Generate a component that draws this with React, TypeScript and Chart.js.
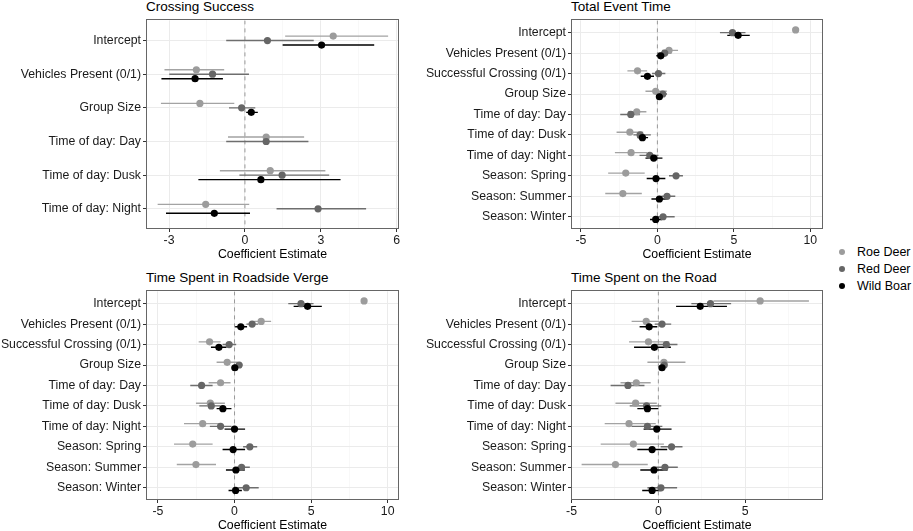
import React, { useEffect, useRef } from "react";
import { Chart, registerables } from "chart.js";

Chart.register(...registerables);

const FONT = '"Liberation Sans", Arial, sans-serif';

const crossingRows = [
  "Intercept",
  "Vehicles Present (0/1)",
  "Group Size",
  "Time of day: Day",
  "Time of day: Dusk",
  "Time of day: Night",
];

const timeRows = [
  "Intercept",
  "Vehicles Present (0/1)",
  "Successful Crossing (0/1)",
  "Group Size",
  "Time of day: Day",
  "Time of day: Dusk",
  "Time of day: Night",
  "Season: Spring",
  "Season: Summer",
  "Season: Winter",
];

const speciesNames = ["Roe Deer", "Red Deer", "Wild Boar"];
const speciesColors = ["#9c9c9c", "#666666", "#000000"];
const lineColors = ["#a3a3a3", "#6e6e6e", "#000000"];

// each row: [estimate, lower, upper], null where the term is missing
type Est = number[] | null;

const crossRoe: Est[] = [
  [3.49, 1.59, 5.66],
  [-1.92, -3.18, -0.82],
  [-1.78, -3.32, -0.42],
  [0.84, -0.67, 2.34],
  [1.0, -0.99, 3.18],
  [-1.55, -3.45, 0.17],
];
const crossRed: Est[] = [
  [0.89, -0.74, 2.72],
  [-1.28, -2.99, 0.16],
  [-0.13, -0.63, 0.41],
  [0.84, -0.74, 2.51],
  [1.47, -0.22, 3.33],
  [2.89, 1.25, 4.79],
];
const crossBoar: Est[] = [
  [3.03, 1.49, 5.11],
  [-1.97, -3.3, -0.87],
  [0.25, 0.05, 0.51],
  null,
  [0.63, -1.84, 3.78],
  [-1.21, -3.12, 0.2],
];

const totalRoe: Est[] = [
  [9.04, 8.96, 9.12],
  [0.76, 0.3, 1.35],
  [-1.3, -1.96, -0.67],
  [-0.11, -0.78, 0.61],
  [-1.35, -1.91, -0.72],
  [-1.8, -2.67, -0.93],
  [-1.72, -2.78, -0.67],
  [-2.07, -3.22, -0.83],
  [-2.26, -3.41, -1.02],
  null,
];
const totalRed: Est[] = [
  [4.91, 4.09, 5.76],
  [0.48, 0.0, 0.91],
  [0.07, -0.35, 0.52],
  [0.35, 0.04, 0.63],
  [-1.74, -2.43, -1.15],
  [-1.13, -1.57, -0.43],
  [-0.5, -1.17, 0.07],
  [1.22, 0.76, 1.67],
  [0.63, 0.26, 1.17],
  [0.37, -0.07, 1.13],
];
const totalBoar: Est[] = [
  [5.28, 4.57, 6.04],
  [0.22, -0.07, 0.52],
  [-0.65, -1.09, -0.22],
  [0.13, -0.07, 0.33],
  null,
  [-0.98, -1.3, -0.61],
  [-0.24, -0.78, 0.33],
  [-0.09, -0.7, 0.52],
  [0.13, -0.39, 0.61],
  [-0.11, -0.48, 0.3],
];

const vergeRoe: Est[] = [
  [8.46, 8.38, 8.54],
  [1.74, 1.28, 2.39],
  [-1.63, -2.34, -0.91],
  [-0.48, -1.17, 0.2],
  [-0.91, -1.69, -0.26],
  [-1.58, -2.52, -0.63],
  [-2.08, -3.3, -0.91],
  [-2.73, -3.95, -1.43],
  [-2.52, -3.77, -1.21],
  null,
];
const vergeRed: Est[] = [
  [4.34, 3.51, 5.16],
  [1.15, 0.78, 1.54],
  [-0.35, -0.78, 0.11],
  [0.3, 0.04, 0.52],
  [-2.15, -2.89, -1.43],
  [-1.52, -2.3, -0.91],
  [-0.91, -1.61, -0.2],
  [1.0, 0.56, 1.48],
  [0.46, 0.17, 1.0],
  [0.76, 0.24, 1.58],
];
const vergeBoar: Est[] = [
  [4.77, 3.86, 5.7],
  [0.41, 0.04, 0.82],
  [-1.02, -1.54, -0.52],
  [0.02, -0.17, 0.22],
  null,
  [-0.76, -1.17, -0.2],
  [0.0, -0.65, 0.69],
  [-0.09, -0.78, 0.69],
  [0.09, -0.56, 0.67],
  [0.07, -0.39, 0.48],
];

const roadRoe: Est[] = [
  [5.86, 3.17, 8.67],
  [-0.7, -1.54, 0.04],
  [-0.57, -1.69, 0.63],
  [0.32, -0.63, 1.56],
  [-1.27, -2.18, -0.44],
  [-1.31, -2.47, -0.09],
  [-1.69, -3.09, -0.15],
  [-1.44, -3.32, 0.32],
  [-2.47, -4.42, -0.61],
  null,
];
const roadRed: Est[] = [
  [3.0, 1.9, 4.19],
  [0.21, -0.21, 0.74],
  [0.46, -0.21, 1.1],
  [0.34, 0.15, 0.51],
  [-1.75, -2.75, -0.8],
  [-0.68, -1.65, 0.17],
  [-0.63, -1.54, 0.23],
  [0.76, 0.13, 1.39],
  [0.38, -0.32, 1.12],
  [0.15, -0.63, 1.08],
];
const roadBoar: Est[] = [
  [2.41, 1.02, 3.95],
  [-0.53, -1.08, -0.06],
  [-0.23, -1.4, 0.72],
  [0.21, 0.06, 0.36],
  null,
  [-0.63, -1.21, 0.0],
  [-0.09, -0.85, 0.76],
  [-0.36, -1.21, 0.51],
  [-0.25, -1.04, 0.53],
  [-0.36, -0.93, 0.19],
];

const crossTicks = [-3, 0, 3, 6];
const timeTicks = [-5, 0, 5, 10];
const roadTicks = [-5, 0, 5];

const dodge = [-0.133, 0, 0.133];
const AXIS_W = 146; // room for the row labels
const PAD_TOP = 8; // keeps chart.js from shifting the plot for label overhang
const PAD_RIGHT = 5;
const PAD_BOTTOM = 2;
const X_AXIS_H = 33;
const PLOT_H = 210;
const CANVAS_H = PAD_TOP + PLOT_H + X_AXIS_H + PAD_BOTTOM;

type PanelProps = {
  title: string;
  rows: string[];
  series: Est[][];
  xMin: number;
  xMax: number;
  majors: number[];
  left: number;
  plotTop: number;
  width: number;
};

const Panel = ({ title, rows, series, xMin, xMax, majors, left, plotTop, width }: PanelProps) => {
  const chartRef = useRef<HTMLCanvasElement | null>(null);

  useEffect(() => {
    if (!chartRef.current) return;
    const ctx = chartRef.current.getContext("2d");
    if (!ctx) return;

    const step = majors[1] - majors[0];
    const gridVals: number[] = [];
    for (let v = majors[0] - step / 2; v <= xMax; v += step / 2) {
      if (v > xMin) gridVals.push(Math.round(v * 100) / 100);
    }
    const isMajor = (v: number) => majors.includes(v);
    const yMax = rows.length + 0.6;

    const datasets: any[] = [
      {
        type: "line",
        data: [
          { x: 0, y: 0.4 },
          { x: 0, y: yMax },
        ],
        borderColor: "#9a9a9a",
        borderWidth: 1,
        borderDash: [4, 4],
        pointRadius: 0,
        order: 20,
      },
    ];

    series.forEach((s, k) => {
      const segs: any[] = [];
      const pts: any[] = [];
      s.forEach((r, i) => {
        if (!r) return;
        const y = i + 1 + dodge[k];
        segs.push({ x: r[1], y }, { x: r[2], y }, { x: r[0], y: null });
        pts.push({ x: r[0], y });
      });
      datasets.push({
        type: "line",
        label: speciesNames[k] + " CI",
        data: segs,
        borderColor: lineColors[k],
        borderWidth: 1.4,
        pointRadius: 0,
        spanGaps: false,
        order: 10 - k,
      });
      datasets.push({
        type: "scatter",
        label: speciesNames[k],
        data: pts,
        pointRadius: 3.6,
        backgroundColor: speciesColors[k],
        borderWidth: 0,
        order: 5 - k,
      });
    });

    const myChart = new Chart(ctx, {
      type: "scatter",
      data: { datasets },
      options: {
        responsive: false,
        animation: false,
        events: [],
        layout: {
          padding: { top: PAD_TOP, right: PAD_RIGHT, bottom: PAD_BOTTOM, left: 0 },
          autoPadding: false,
        },
        plugins: {
          legend: { display: false },
          tooltip: { enabled: false },
        },
        scales: {
          x: {
            type: "linear",
            min: xMin,
            max: xMax,
            afterBuildTicks: (sc: any) => {
              sc.ticks = gridVals.map((v) => ({ value: v }));
            },
            afterFit: (sc: any) => {
              sc.height = X_AXIS_H;
            },
            ticks: {
              autoSkip: false,
              maxRotation: 0,
              padding: 1,
              color: "#1a1a1a",
              font: { family: FONT, size: 12.3 },
              callback: (v: any) => (isMajor(v) ? String(v) : ""),
            },
            grid: {
              color: (c: any) => (isMajor(c.tick.value) ? "#ebebeb" : "#f3f3f3"),
              lineWidth: (c: any) => (isMajor(c.tick.value) ? 1 : 0.6),
              tickLength: 3,
              tickWidth: 1,
              tickColor: (c: any) => (isMajor(c.tick.value) ? "#333" : "rgba(0,0,0,0)"),
            },
            border: { display: false },
            title: {
              display: true,
              text: "Coefficient Estimate",
              color: "#000",
              font: { family: FONT, size: 12.3 },
              padding: { top: 0, bottom: 0 },
            },
          },
          y: {
            type: "linear",
            reverse: true,
            min: 0.4,
            max: yMax,
            afterBuildTicks: (sc: any) => {
              sc.ticks = rows.map((_, i) => ({ value: i + 1 }));
            },
            afterFit: (sc: any) => {
              sc.width = AXIS_W;
            },
            ticks: {
              autoSkip: false,
              padding: 2,
              color: "#1a1a1a",
              font: { family: FONT, size: 12.3 },
              callback: (v: any) => rows[v - 1] ?? "",
            },
            grid: {
              color: "#ebebeb",
              lineWidth: 1,
              tickLength: 3,
              tickWidth: 1,
              tickColor: "#333",
            },
            border: { display: false },
          },
        },
      },
    });

    return () => {
      myChart.destroy();
    };
  }, []);

  const canvasTop = plotTop - PAD_TOP;

  return (
    <>
      <div
        style={{
          position: "absolute",
          left: left + AXIS_W,
          top: plotTop - 19,
          font: `13.5px ${FONT}`,
          lineHeight: "13px",
          color: "#000",
          whiteSpace: "nowrap",
        }}
      >
        {title}
      </div>
      <canvas
        ref={chartRef}
        width={width}
        height={CANVAS_H}
        style={{ position: "absolute", left, top: canvasTop, width, height: CANVAS_H }}
      ></canvas>
      {/* panel frame over the plot area */}
      <div
        style={{
          position: "absolute",
          left: left + AXIS_W,
          top: plotTop,
          width: width - AXIS_W - PAD_RIGHT,
          height: PLOT_H,
          boxSizing: "border-box",
          border: "1px solid #666",
          pointerEvents: "none",
        }}
      ></div>
    </>
  );
};

const Legend = () => (
  <div style={{ position: "absolute", left: 836, top: 243 }}>
    {speciesNames.map((n, k) => (
      <div
        key={n}
        style={{ display: "flex", alignItems: "center", height: 17.2, font: `12.5px ${FONT}`, color: "#000" }}
      >
        <span
          style={{
            display: "inline-block",
            width: 6,
            height: 6,
            borderRadius: "50%",
            background: speciesColors[k],
            marginLeft: 3,
            marginRight: 12,
          }}
        ></span>
        <span style={{ whiteSpace: "nowrap" }}>{n}</span>
      </div>
    ))}
  </div>
);

export default function App() {
  return (
    <div
      style={{
        position: "fixed",
        left: 0,
        top: 0,
        width: 913,
        height: 531,
        background: "#fff",
        overflow: "hidden",
      }}
    >
      <Panel
        title="Crossing Success"
        rows={crossingRows}
        series={[crossRoe, crossRed, crossBoar]}
        xMin={-3.91}
        xMax={6.09}
        majors={crossTicks}
        left={0}
        plotTop={19}
        width={404}
      />
      <Panel
        title="Total Event Time"
        rows={timeRows}
        series={[totalRoe, totalRed, totalBoar]}
        xMin={-5.65}
        xMax={10.83}
        majors={timeTicks}
        left={425}
        plotTop={19}
        width={403}
      />
      <Panel
        title="Time Spent in Roadside Verge"
        rows={timeRows}
        series={[vergeRoe, vergeRed, vergeBoar]}
        xMin={-5.78}
        xMax={10.74}
        majors={timeTicks}
        left={0}
        plotTop={290}
        width={404}
      />
      <Panel
        title="Time Spent on the Road"
        rows={timeRows}
        series={[roadRoe, roadRed, roadBoar]}
        xMin={-5.03}
        xMax={9.48}
        majors={roadTicks}
        left={425}
        plotTop={290}
        width={403}
      />
      <Legend />
    </div>
  );
}
